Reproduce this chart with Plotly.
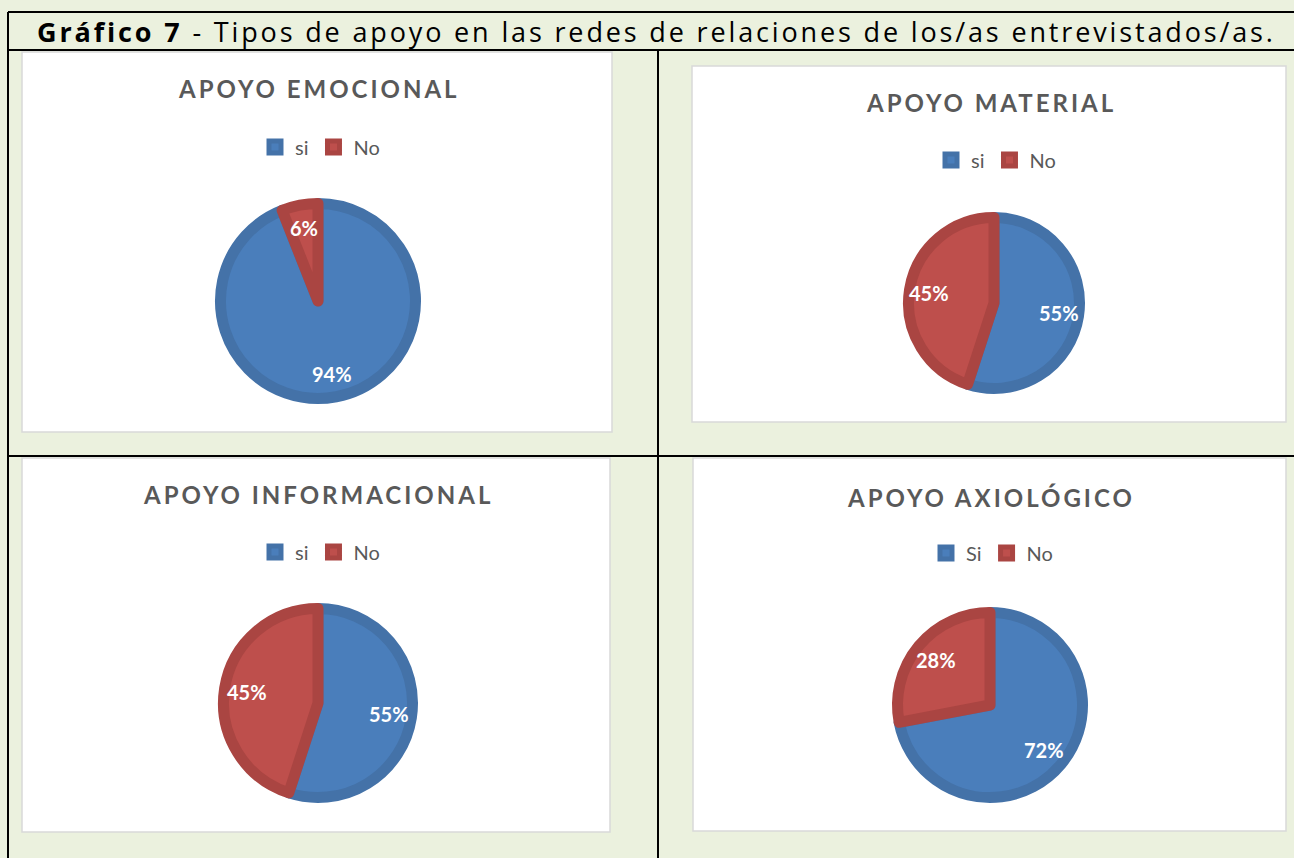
import math
import plotly.graph_objects as go

W, H = 1294, 858

# ---------------- data ----------------
main_title_bold = "Gráfico 7"
main_title_rest = " - Tipos de apoyo en las redes de relaciones de los/as entrevistados/as."

chart_titles = ["APOYO EMOCIONAL", "APOYO MATERIAL", "APOYO INFORMACIONAL", "APOYO AXIOLÓGICO"]
labels_emocional = ["si", "No"]
labels_material = ["si", "No"]
labels_informacional = ["si", "No"]
labels_axiologico = ["Si", "No"]
values_emocional = [94, 6]
values_material = [55, 45]
values_informacional = [55, 45]
values_axiologico = [72, 28]

all_labels = [labels_emocional, labels_material, labels_informacional, labels_axiologico]
all_values = [values_emocional, values_material, values_informacional, values_axiologico]

# ---------------- styling / layout ----------------
BG = "#EBF1DE"
FILL = ["#4A7EBB", "#BE4F4C"]
EDGE = ["#4472A8", "#AA4542"]
EDGE_W = 11
GRAY = "#595959"

# panel geometry in pixels: (x0, y0, x1, y1), title y, legend y, pie cx, cy, visible radius
panels = [
    dict(rect=(22, 52, 612, 432), ty=89, ly=147, cx=318, cy=301, r=103, lx=320),
    dict(rect=(692, 66, 1286, 422), ty=103, ly=160, cx=994, cy=303, r=91, lx=996),
    dict(rect=(22, 458, 610, 832), ty=495, ly=552, cx=318, cy=703, r=100, lx=320),
    dict(rect=(693, 458, 1286, 831), ty=497, ly=553, cx=990, cy=705, r=98, lx=992),
]


def fx(x):
    return x / W


def fy(y):
    return 1 - y / H


fig = go.Figure()
shapes = []
annotations = []

# table lines
line_style = dict(color="black", width=2)
for (x0, y0, x1, y1) in [(8, 12, 1300, 12), (8, 50, 1300, 50), (8, 12, 8, 870),
                         (658, 50, 658, 870), (8, 456, 1300, 456)]:
    shapes.append(dict(type="line", xref="paper", yref="paper",
                       x0=fx(x0), y0=fy(y0), x1=fx(x1), y1=fy(y1), line=line_style, layer="below"))

for i, p in enumerate(panels):
    x0, y0, x1, y1 = p["rect"]
    shapes.append(dict(type="rect", xref="paper", yref="paper",
                       x0=fx(x0), y0=fy(y0), x1=fx(x1), y1=fy(y1),
                       fillcolor="white", line=dict(color="#D9D9D9", width=1.5), layer="below"))
    R = p["r"]
    rp = R - EDGE_W / 2
    legend_name = "legend" if i == 0 else f"legend{i + 1}"
    # zero-width suffix keeps each pie's legend entries separate (pie legends share labels)
    uniq_labels = [lab + "\u200b" * i for lab in all_labels[i]]
    fig.add_trace(go.Pie(
        labels=uniq_labels, values=all_values[i], sort=False, direction="clockwise", rotation=0,
        marker=dict(colors=FILL, line=dict(color=EDGE, width=EDGE_W)),
        textinfo="none", hoverinfo="label+percent",
        domain=dict(x=[fx(p["cx"] - rp), fx(p["cx"] + rp)], y=[fy(p["cy"] + rp), fy(p["cy"] - rp)]),
        legend=legend_name, showlegend=True,
    ))
    # chart title
    annotations.append(dict(
        xref="paper", yref="paper", x=fx((x0 + x1) / 2 + 1.5), y=fy(p["ty"]), xanchor="center", yanchor="middle",
        text=f'<span style="letter-spacing:3px">{chart_titles[i]}</span>', showarrow=False,
        font=dict(family="Lato", size=24, color=GRAY, weight="bold"),
    ))
    # percentage labels
    vals = all_values[i]
    total = sum(vals)
    cum = 0
    for v in vals:
        a = math.radians((cum + v / 2) / total * 360)
        cum += v
        k = 0.72
        tx = p["cx"] + k * R * math.sin(a)
        ty = p["cy"] - k * R * math.cos(a)
        annotations.append(dict(
            xref="paper", yref="paper", x=fx(tx), y=fy(ty), xanchor="center", yanchor="middle",
            text=f"{round(v / total * 100)}%", showarrow=False,
            font=dict(family="Lato", size=20, color="white", weight="bold"),
        ))

# main title
annotations.append(dict(
    xref="paper", yref="paper", x=fx(35), y=fy(31), xanchor="left", yanchor="middle",
    text=f'<span style="letter-spacing:2.85px"><b>{main_title_bold}</b>{main_title_rest}</span>',
    showarrow=False,
    font=dict(family="Open Sans", size=27, color="black"),
))

legends = {}
for i, p in enumerate(panels):
    name = "legend" if i == 0 else f"legend{i + 1}"
    legends[name] = dict(
        orientation="h", x=fx(p["lx"]), y=fy(p["ly"]), xanchor="center", yanchor="middle",
        bgcolor="rgba(0,0,0,0)", font=dict(family="Lato", size=20, color=GRAY),
        itemwidth=30, traceorder="normal",
    )

fig.update_layout(
    width=W, height=H, margin=dict(l=0, r=0, t=0, b=0),
    paper_bgcolor=BG, plot_bgcolor=BG,
    shapes=shapes, annotations=annotations,
    **legends,
)

fig.write_html(
    "out.html",
    config={"displayModeBar": False},
    post_script="document.body.style.margin='0';document.body.style.background='" + BG + "';",
)
